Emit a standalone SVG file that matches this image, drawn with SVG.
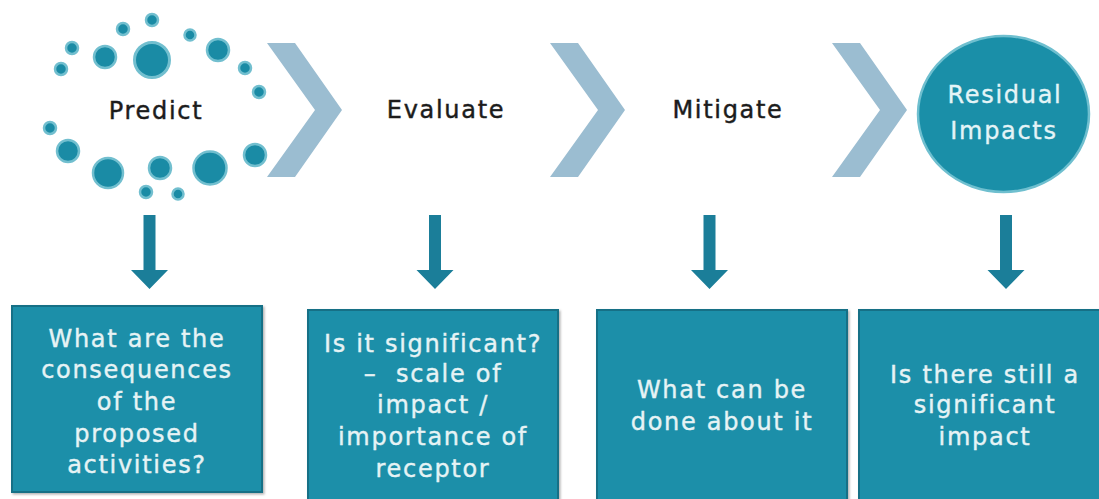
<svg xmlns="http://www.w3.org/2000/svg" width="1099" height="499" viewBox="0 0 1099 499">
<style>
.dot{fill:#1a8ba5;stroke:#72bfcf;}
.chev{fill:#9bbdd1;}
.lbl{font-family:"DejaVu Sans",Verdana,sans-serif;font-size:24px;letter-spacing:1.7px;fill:#1c1c1c;stroke:#1c1c1c;stroke-width:0.45px;text-anchor:middle;}
.wlbl{font-family:"DejaVu Sans",Verdana,sans-serif;font-size:24px;letter-spacing:1.7px;fill:#e4f4f7;stroke:#e4f4f7;stroke-width:0.35px;text-anchor:middle;}
.box{fill:#1a8fa9;stroke:#156f86;stroke-width:2;}
.btxt{font-family:"DejaVu Sans",Verdana,sans-serif;font-size:24px;letter-spacing:1.7px;fill:#e6f3f5;stroke:#e6f3f5;stroke-width:0.4px;text-anchor:middle;white-space:pre;}
.arr{fill:#1b7e99;}
</style>
<defs>
<filter id="sh" x="-5%" y="-5%" width="110%" height="110%">
<feDropShadow dx="1.5" dy="1.5" stdDeviation="1.2" flood-color="#000" flood-opacity="0.3"/>
</filter>
</defs>
<rect width="1099" height="499" fill="#ffffff"/>

<g id="predict">
<circle class="dot" cx="152" cy="20" r="6" stroke-width="2.5"/>
<circle class="dot" cx="123" cy="29" r="6" stroke-width="2.5"/>
<circle class="dot" cx="190" cy="35" r="5.5" stroke-width="2.5"/>
<circle class="dot" cx="72" cy="48" r="6" stroke-width="2.5"/>
<circle class="dot" cx="105" cy="57" r="11" stroke-width="2.5"/>
<circle class="dot" cx="152" cy="60" r="17.5" stroke-width="3"/>
<circle class="dot" cx="218" cy="50" r="11" stroke-width="2.5"/>
<circle class="dot" cx="61" cy="69" r="6" stroke-width="2.5"/>
<circle class="dot" cx="245" cy="68" r="6" stroke-width="2.5"/>
<circle class="dot" cx="259" cy="92" r="6" stroke-width="2.5"/>
<circle class="dot" cx="50" cy="128" r="6" stroke-width="2.5"/>
<circle class="dot" cx="68" cy="151" r="11" stroke-width="2.5"/>
<circle class="dot" cx="108" cy="173" r="15" stroke-width="2.5"/>
<circle class="dot" cx="160" cy="168" r="11" stroke-width="2.5"/>
<circle class="dot" cx="210" cy="168" r="16.5" stroke-width="2.5"/>
<circle class="dot" cx="255" cy="155" r="11" stroke-width="2.5"/>
<circle class="dot" cx="146" cy="192" r="6" stroke-width="2.5"/>
<circle class="dot" cx="178" cy="194" r="5.5" stroke-width="2.5"/>
<text class="lbl" x="156" y="119">Predict</text>
</g>

<g id="evaluate">
<text class="lbl" x="446" y="118">Evaluate</text>
</g>

<g id="mitigate">
<text class="lbl" x="728" y="118">Mitigate</text>
</g>

<g id="residual">
<ellipse cx="1003.5" cy="114" rx="85.5" ry="78" fill="#1a8fa8" stroke="#6fbfcf" stroke-width="2.5"/>
<text class="wlbl" x="1005" y="103">Residual</text>
<text class="wlbl" x="1004" y="139">Impacts</text>
</g>

<g id="connectors">
<polygon class="chev" points="267,43 295,43 342,110 295,177 267,177 315,110"/>
<polygon class="chev" points="550,43 578,43 625,110 578,177 550,177 598,110"/>
<polygon class="chev" points="832,43 860,43 907,110 860,177 832,177 880,110"/>
<polygon class="arr" points="143.5,215 155.5,215 155.5,270 168,270 149.5,289 131,270 143.5,270"/>
<polygon class="arr" points="429,215 441,215 441,270 453.5,270 435,289 416.5,270 429,270"/>
<polygon class="arr" points="703.5,215 715.5,215 715.5,270 728,270 709.5,289 691,270 703.5,270"/>
<polygon class="arr" points="1000,215 1012,215 1012,270 1024.5,270 1006,289 987.5,270 1000,270"/>
</g>

<g id="box1">
<rect class="box" x="12" y="306" width="250" height="186" filter="url(#sh)"/>
<text class="btxt" x="137" y="347">What are the</text>
<text class="btxt" x="137" y="378">consequences</text>
<text class="btxt" x="137" y="410">of the</text>
<text class="btxt" x="137" y="442">proposed</text>
<text class="btxt" x="137" y="473">activities?</text>
</g>

<g id="box2">
<rect class="box" x="308" y="310" width="250" height="200" filter="url(#sh)"/>
<text class="btxt" x="433" y="352">Is it significant?</text>
<text class="btxt" x="433" y="382">–  scale of</text>
<text class="btxt" x="433" y="413">impact /</text>
<text class="btxt" x="433" y="445">importance of</text>
<text class="btxt" x="433" y="477">receptor</text>
</g>

<g id="box3">
<rect class="box" x="597" y="310" width="250" height="200" filter="url(#sh)"/>
<text class="btxt" x="722" y="398">What can be</text>
<text class="btxt" x="722" y="430">done about it</text>
</g>

<g id="box4">
<rect class="box" x="859" y="310" width="260" height="200" filter="url(#sh)"/>
<text class="btxt" x="985" y="383">Is there still a</text>
<text class="btxt" x="985" y="413">significant</text>
<text class="btxt" x="985" y="445">impact</text>
</g>
</svg>
